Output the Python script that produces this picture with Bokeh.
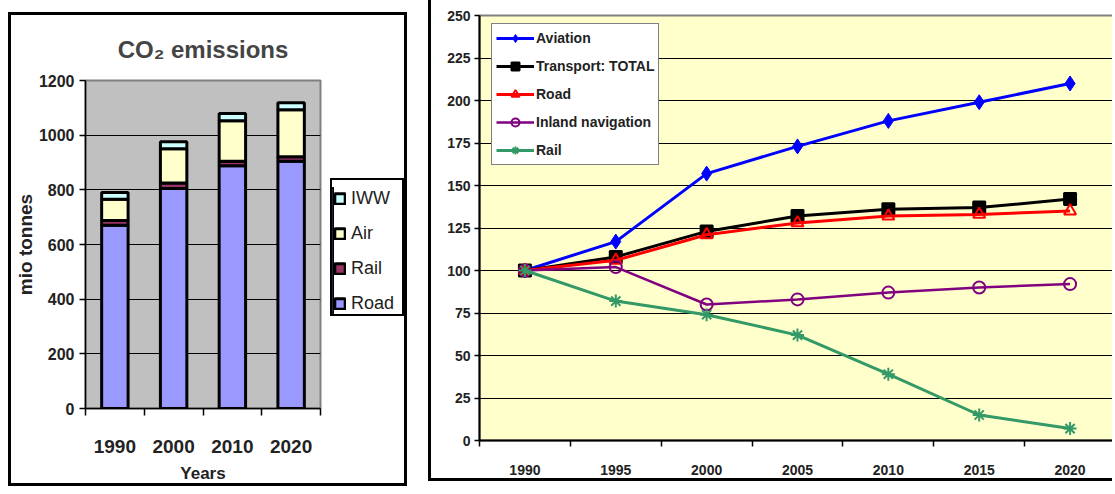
from bokeh.plotting import figure
from bokeh.models import (FixedTicker, SingleIntervalTicker, Legend, LegendItem,
                          Range1d, ColumnDataSource)
from bokeh.embed import file_html
from bokeh.resources import INLINE

# ---------------- data: left chart (CO2 emissions, mio tonnes) ----------------
bar_years = ["1990", "2000", "2010", "2020"]
road = [670, 805, 888, 905]
rail = [18, 20, 17, 16]
air = [78, 125, 148, 172]
iww = [24, 26, 26, 26]

# ---------------- data: right chart (index 1990 = 100) ----------------
idx_years = ["1990", "1995", "2000", "2005", "2010", "2015", "2020"]
aviation = [100, 117, 157, 173, 188, 199, 210]
transport_total = [100, 108, 123, 132, 136, 137, 142]
road_idx = [100, 106, 121, 128, 132, 133, 135]
inland_nav = [100, 102, 80, 83, 87, 90, 92]
rail_idx = [100, 82, 74, 62, 39, 15, 7]

FONT = "Liberation Sans"

# ================= left chart =================
n = len(bar_years)
xb = list(range(n))
src = ColumnDataSource(dict(x=xb, Road=road, Rail=rail, Air=air, IWW=iww))

p1 = figure(width=399, height=474,
            x_range=Range1d(-0.5, n - 0.5), y_range=Range1d(0, 1200),
            output_backend="svg", toolbar_location=None,
            min_border_left=69, min_border_right=90, min_border_top=65, min_border_bottom=81)
p1.styles = {"position": "absolute", "left": "8px", "top": "12px",
             "border": "3px solid black"}
p1.background_fill_color = "#C0C0C0"
p1.border_fill_color = "white"
p1.outline_line_color = "#808080"
p1.outline_line_width = 2

stack = ["Road", "Rail", "Air", "IWW"]
colors = ["#9999FF", "#993366", "#FFFFCC", "#CCFFFF"]
BAR_LINE = dict(line_color="black", line_width=3)
rs = p1.vbar_stack(stack, x="x", width=0.45, source=src, fill_color=colors, **BAR_LINE)

p1.title.text = "CO\u2082 emissions"
p1.title.text_font = FONT
p1.title.text_font_size = "24px"
p1.title.text_font_style = "bold"
p1.title.align = "center"
p1.title.standoff = 36

p1.xgrid.grid_line_color = None
p1.ygrid.grid_line_color = "black"
p1.ygrid.grid_line_width = 1

xa = p1.xaxis[0]
xa.ticker = FixedTicker(ticks=xb, minor_ticks=[i - 0.5 for i in range(n + 1)])
xa.major_label_overrides = {i: y for i, y in zip(xb, bar_years)}
xa.major_tick_line_color = None
xa.major_tick_out = 0
xa.major_tick_in = 0
xa.minor_tick_line_color = "black"
xa.minor_tick_line_width = 1.5
xa.minor_tick_out = 7
xa.minor_tick_in = 0
xa.axis_line_color = "black"
xa.axis_line_width = 1.5
xa.major_label_standoff = 24
xa.major_label_text_font = FONT
xa.major_label_text_font_size = "19px"
xa.major_label_text_font_style = "bold"
xa.major_label_text_color = "#222222"
xa.axis_label = "Years"
xa.axis_label_text_font = FONT
xa.axis_label_text_font_size = "17px"
xa.axis_label_text_font_style = "bold"
xa.axis_label_text_color = "#222222"
xa.axis_label_standoff = 8

ya = p1.yaxis[0]
ya.ticker = SingleIntervalTicker(interval=200)
ya.minor_tick_line_color = None
ya.major_tick_out = 6
ya.major_tick_in = 0
ya.major_tick_line_width = 1.5
ya.axis_line_color = "black"
ya.axis_line_width = 1.5
ya.major_label_standoff = 5
ya.major_label_text_font = FONT
ya.major_label_text_font_size = "16px"
ya.major_label_text_font_style = "bold"
ya.major_label_text_color = "#222222"
ya.axis_label = "mio tonnes"
ya.axis_label_text_font = FONT
ya.axis_label_text_font_size = "19px"
ya.axis_label_text_font_style = "bold"
ya.axis_label_text_color = "#222222"
ya.axis_label_standoff = 0

# legend of the left chart: a small separate figure beside the plot area,
# its bars (from the same data) lie outside its visible range
lf = figure(width=74, height=138, x_range=Range1d(50, 51), y_range=Range1d(0, 1),
            output_backend="svg", toolbar_location=None,
            min_border_left=0, min_border_right=0, min_border_top=7, min_border_bottom=0,
            x_axis_type=None, y_axis_type=None)
lf.styles = {"position": "absolute", "left": "330px", "top": "178px",
             "border": "2px solid black"}
lf.outline_line_color = None
lf.background_fill_color = "white"
lf.border_fill_color = "white"
lf.xgrid.grid_line_color = None
lf.ygrid.grid_line_color = None
lrs = lf.vbar_stack(stack, x="x", width=0.45, source=src, fill_color=colors, **BAR_LINE)
leg1 = Legend(items=[LegendItem(label=s, renderers=[r]) for s, r in zip(stack[::-1], lrs[::-1])],
              location="top_left")
leg1.label_text_font = FONT
leg1.label_text_font_size = "18px"
leg1.label_text_color = "#222222"
leg1.glyph_width = 13
leg1.glyph_height = 13
leg1.label_height = 20
leg1.label_standoff = 5
leg1.spacing = 14
leg1.padding = 6
leg1.margin = 1
leg1.border_line_color = None
leg1.background_fill_alpha = 0
lf.add_layout(leg1)

# ================= right chart =================
m = len(idx_years)
xi = list(range(m))
p2 = figure(width=684, height=481, x_range=Range1d(-0.5, m - 0.5), y_range=Range1d(0, 250),
            output_backend="svg", toolbar_location=None,
            min_border_left=48, min_border_right=0, min_border_top=15, min_border_bottom=41)
p2.styles = {"position": "absolute", "left": "428px", "top": "0px",
             "border-left": "3px solid black", "border-bottom": "3px solid black"}
p2.background_fill_color = "#FFFFCC"
p2.border_fill_color = "white"
p2.outline_line_color = "#808080"
p2.outline_line_width = 2
p2.xgrid.grid_line_color = None
p2.ygrid.grid_line_color = "black"
p2.ygrid.grid_line_width = 1.2
p2.ygrid.ticker = SingleIntervalTicker(interval=25)

series = [
    ("Aviation", aviation, "#0000FF", "diamond", 15, "#0000FF", 3),
    ("Transport: TOTAL", transport_total, "black", "square", 12, "black", 3),
    ("Road", road_idx, "#FF0000", "triangle", 12, None, 3),
    ("Inland navigation", inland_nav, "#800080", "circle", 12, None, 2.5),
    ("Rail", rail_idx, "#339966", "asterisk", 13, None, 3),
]
for name, vals, col, mk, sz, fill, lw in series:
    p2.line(xi, vals, line_color=col, line_width=lw, legend_label=name)
    p2.scatter(xi, vals, marker=mk, size=sz, line_color=col, fill_color=fill,
               line_width=2 if mk != "diamond" else 1, legend_label=name)

xa2 = p2.xaxis[0]
xa2.ticker = FixedTicker(ticks=xi, minor_ticks=[i - 0.5 for i in range(m + 1)])
xa2.major_label_overrides = {i: y for i, y in zip(xi, idx_years)}
xa2.major_tick_line_color = None
xa2.major_tick_out = 0
xa2.major_tick_in = 0
xa2.minor_tick_line_color = "black"
xa2.minor_tick_line_width = 1.5
xa2.minor_tick_out = 6
xa2.minor_tick_in = 0
xa2.axis_line_color = "black"
xa2.axis_line_width = 2
xa2.major_label_standoff = 18
xa2.major_label_text_font = FONT
xa2.major_label_text_font_size = "14px"
xa2.major_label_text_font_style = "bold"
xa2.major_label_text_color = "#222222"

ya2 = p2.yaxis[0]
ya2.ticker = SingleIntervalTicker(interval=25)
ya2.minor_tick_line_color = None
ya2.major_tick_out = 5
ya2.major_tick_in = 0
ya2.major_tick_line_width = 1.5
ya2.axis_line_color = "black"
ya2.axis_line_width = 2
ya2.major_label_standoff = 4
ya2.major_label_text_font = FONT
ya2.major_label_text_font_size = "14px"
ya2.major_label_text_font_style = "bold"
ya2.major_label_text_color = "#222222"

leg2 = p2.legend[0]
leg2.location = (12, 275)
leg2.label_text_font = FONT
leg2.label_text_font_size = "14px"
leg2.label_text_font_style = "bold"
leg2.label_text_color = "#222222"
leg2.glyph_width = 38
leg2.glyph_height = 20
leg2.label_height = 20
leg2.label_standoff = 2
leg2.spacing = 8
leg2.padding = 4
leg2.margin = 0
leg2.border_line_color = "black"
leg2.border_line_width = 1.5
leg2.background_fill_color = "white"
leg2.background_fill_alpha = 1

open("out.html", "w").write(file_html([p1, lf, p2], INLINE))
